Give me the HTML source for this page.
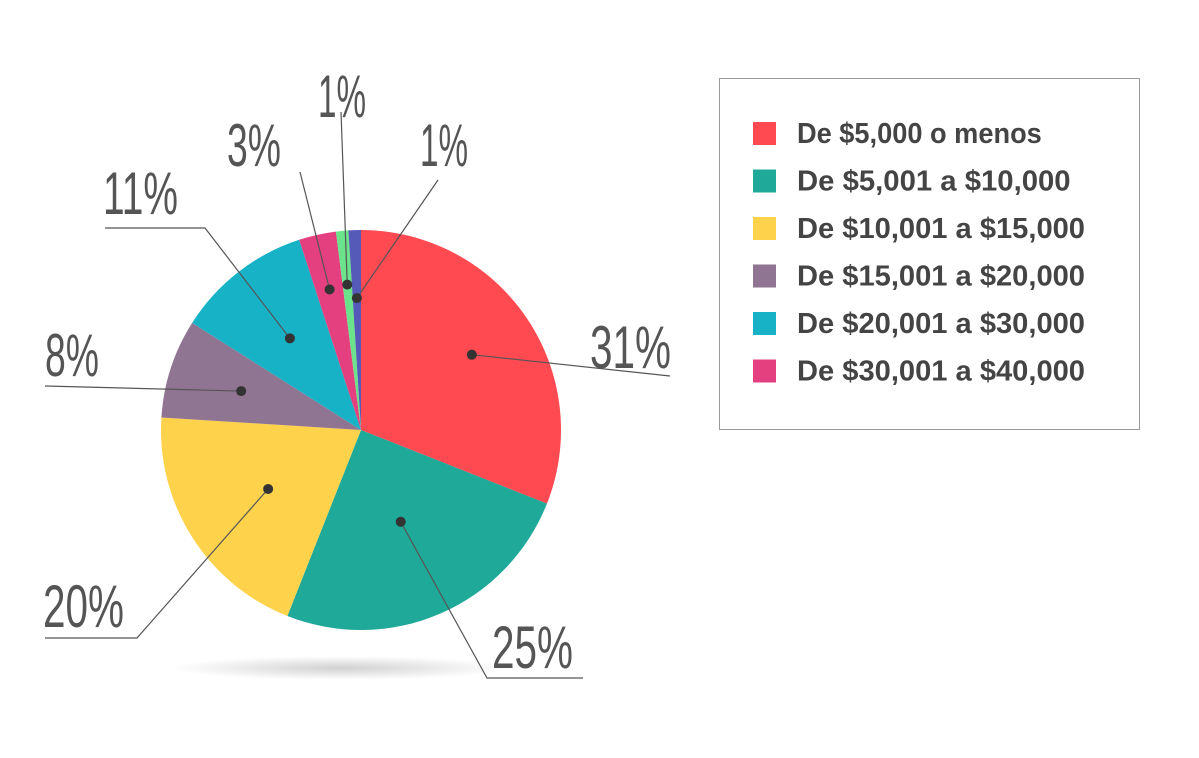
<!DOCTYPE html>
<html><head><meta charset="utf-8"><style>
html,body{margin:0;padding:0;background:#fff;width:1199px;height:758px;overflow:hidden}
svg{display:block}
</style></head><body>
<svg id="chart" width="1199" height="758" viewBox="0 0 1199 758" xmlns="http://www.w3.org/2000/svg">
<defs>
<radialGradient id="shadow" cx="50%" cy="50%" r="50%"><stop offset="0" stop-color="#000" stop-opacity="0.18"/><stop offset="1" stop-color="#000" stop-opacity="0"/></radialGradient>
</defs>
<ellipse cx="340" cy="668" rx="170" ry="12" fill="url(#shadow)"/>
<g id="slices"></g>
<g id="labels"></g>
<g id="legend"></g>
</svg>
<script>
const categories = ["De $5,000 o menos","De $5,001 a $10,000","De $10,001 a $15,000","De $15,001 a $20,000","De $20,001 a $30,000","De $30,001 a $40,000","Otro 1","Otro 2"];
const values = [31, 25, 20, 8, 11, 3, 1, 1];
const colors = ["#ff4a52","#1ea999","#ffd24c","#8f7592","#17b2c6","#e4407f","#6be38b","#5559b8"];
const legendCount = 6;
// label layout: dot fraction of radius, leader path points, text position
const labelLayout = [
  {r:0.67, pts:[[670,376]], tx:590, ty:368},
  {r:0.50, pts:[[487,678],[583,678]], tx:492, ty:668},
  {r:0.55, pts:[[137,638],[45,638]], tx:43, ty:627},
  {r:0.63, pts:[[45,386]], tx:45, ty:376},
  {r:0.58, pts:[[205,228],[105,228]], tx:103, ty:214},
  {r:0.72, pts:[[300,172]], tx:227, ty:166},
  {r:0.73, pts:[[341,112]], tx:318, ty:117},
  {r:0.66, pts:[[438,180]], tx:420, ty:166}
];
const cx=361, cy=430, R=200;
const NS="http://www.w3.org/2000/svg";
const total = values.reduce((a,b)=>a+b,0);
function pt(frac, r){const a=frac*2*Math.PI;return [cx+r*Math.sin(a), cy-r*Math.cos(a)];}
const gS=document.getElementById('slices'), gL=document.getElementById('labels'), gG=document.getElementById('legend');
let acc=0;
values.forEach((v,i)=>{
  const f0=acc/total, f1=(acc+v)/total; acc+=v;
  const p0=pt(f0,R), p1=pt(f1,R);
  const large=(f1-f0)>0.5?1:0;
  const path=document.createElementNS(NS,'path');
  path.setAttribute('d',`M${cx},${cy} L${p0[0]},${p0[1]} A${R},${R} 0 ${large} 1 ${p1[0]},${p1[1]} Z`);
  path.setAttribute('fill',colors[i]);
  
  
  gS.appendChild(path);
  const L=labelLayout[i];
  const d=pt((f0+f1)/2, R*L.r);
  let pts=[d].concat(L.pts);
  const pl=document.createElementNS(NS,'polyline');
  pl.setAttribute('points',pts.map(p=>p.join(',')).join(' '));
  pl.setAttribute('fill','none');pl.setAttribute('stroke','#555');pl.setAttribute('stroke-width','1.2');
  
  
  gL.appendChild(pl);
  const c=document.createElementNS(NS,'circle');
  c.setAttribute('cx',d[0]);c.setAttribute('cy',d[1]);c.setAttribute('r',5);c.setAttribute('fill','#333');
  
  
  gL.appendChild(c);
  const t=document.createElementNS(NS,'text');
  const s=v+'%';
  t.textContent=s;
  t.setAttribute('x',L.tx);t.setAttribute('y',L.ty);
  t.setAttribute('font-family','Liberation Sans, sans-serif');
  t.setAttribute('font-size','60');t.setAttribute('fill','#555');
  t.setAttribute('textLength', String(s.length*27 - (s.startsWith('1')?6:0)));
  t.setAttribute('lengthAdjust','spacingAndGlyphs');
  
  
  gL.appendChild(t);
});
const box=document.createElementNS(NS,'rect');
box.setAttribute('x',719.5);box.setAttribute('y',78.5);box.setAttribute('width',420);box.setAttribute('height',351);
box.setAttribute('fill','#fff');box.setAttribute('stroke','#999');box.setAttribute('stroke-width','1');


gG.appendChild(box);
for(let i=0;i<legendCount;i++){
  const y=133+i*47.5;
  const g=document.createElementNS(NS,'g');
  
  
  const r=document.createElementNS(NS,'rect');
  r.setAttribute('x',753);r.setAttribute('y',y-11);r.setAttribute('width',23);r.setAttribute('height',23);r.setAttribute('fill',colors[i]);
  
  
  const t=document.createElementNS(NS,'text');
  t.textContent=categories[i];
  t.setAttribute('x',797);t.setAttribute('y',y+10);
  t.setAttribute('font-family','Liberation Sans, sans-serif');t.setAttribute('font-size','29');t.setAttribute('font-weight','bold');t.setAttribute('fill','#444');
  t.setAttribute('textLength', String(categories[i].length*14.4));
  t.setAttribute('lengthAdjust','spacingAndGlyphs');
  
  
  g.appendChild(r);g.appendChild(t);gG.appendChild(g);
}
</script>
</body></html>
